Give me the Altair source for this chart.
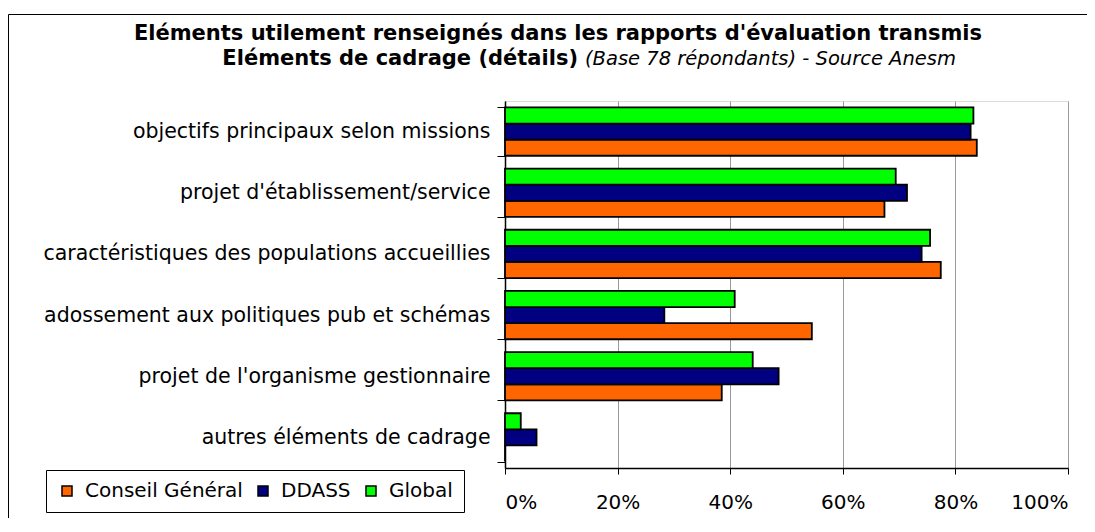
import altair as alt
import pandas as pd

categories = [
    "objectifs principaux selon missions",
    "projet d'établissement/service",
    "caractéristiques des populations accueillies",
    "adossement aux politiques pub et schémas",
    "projet de l'organisme gestionnaire",
    "autres éléments de cadrage",
]
series_names = ["Conseil Général", "DDASS", "Global"]
series_colors = ["#FF6600", "#000080", "#00FF00"]
stack_order = ["Global", "DDASS", "Conseil Général"]

conseil_general = [83.8, 67.4, 77.4, 54.5, 38.5, 0.0]
ddass = [82.7, 71.4, 74.0, 28.3, 48.6, 5.6]
global_values = [83.2, 69.4, 75.5, 40.8, 44.0, 2.8]

tick_values = [0, 0.2, 0.4, 0.6, 0.8, 1.0]

title_line1 = "Eléments utilement renseignés dans les rapports d'évaluation transmis"
title_line2_bold = "Eléments de cadrage (détails)"
title_line2_italic = "(Base 78 répondants) - Source Anesm"

rows = []
for name, vals in zip(series_names, [conseil_general, ddass, global_values]):
    for cat, v in zip(categories, vals):
        rows.append({"category": cat, "series": name, "value": v / 100.0})
df = pd.DataFrame(rows)

FONT = "DejaVu Sans"

bars = alt.Chart(df).mark_bar(stroke="black", strokeWidth=1.8).encode(
    x=alt.X(
        "value:Q",
        scale=alt.Scale(domain=[0, 1], nice=False),
        axis=alt.Axis(
            values=tick_values, format=".0%", title=None, grid=True,
            gridColor="#9a9a9a", gridWidth=1, domainColor="black", domainWidth=1.5,
            tickColor="black", tickSize=6, tickWidth=1, labelFont=FONT,
            labelFontSize=20, labelColor="black", labelPadding=18,
        ),
    ),
    y=alt.Y(
        "category:N",
        sort=categories,
        scale=alt.Scale(paddingInner=0.21, paddingOuter=0.105),
        axis=alt.Axis(
            title=None, tickBand="extent", tickSize=8, tickColor="black",
            domainColor="black", domainWidth=1.5, labelFont=FONT,
            labelFontSize=20.5, labelColor="black", labelPadding=7, labelLimit=0,
        ),
    ),
    yOffset=alt.YOffset("series:N", sort=stack_order,
                        scale=alt.Scale(paddingInner=0, paddingOuter=0)),
    color=alt.Color(
        "series:N",
        scale=alt.Scale(domain=series_names, range=series_colors),
        legend=alt.Legend(
            orient="none", legendX=-459, legendY=369, direction="horizontal",
            title=None, strokeColor="black", fillColor="white", padding=11,
            symbolType="square", symbolSize=100, symbolStrokeColor="black",
            symbolStrokeWidth=1.5, symbolOpacity=1, labelFont=FONT,
            labelFontSize=20, labelColor="black", labelOffset=8, columnPadding=10,
        ),
    ),
)

box = alt.Chart(pd.DataFrame({"k": [0]})).mark_rect(
    fillOpacity=0, stroke="black", strokeWidth=1
).encode(
    x=alt.value(-496.5), x2=alt.value(800), y=alt.value(-86.5), y2=alt.value(700)
)

t1 = alt.Chart(pd.DataFrame({"t": [title_line1]})).mark_text(
    font=FONT, fontSize=21, fontWeight="bold", align="center",
    baseline="alphabetic", color="black"
).encode(x=alt.value(53), y=alt.value(-61), text="t:N")

t2b = alt.Chart(pd.DataFrame({"t": [title_line2_bold]})).mark_text(
    font=FONT, fontSize=21, fontWeight="bold", align="right",
    baseline="alphabetic", color="black"
).encode(x=alt.value(73), y=alt.value(-36), text="t:N")

t2i = alt.Chart(pd.DataFrame({"t": [title_line2_italic]})).mark_text(
    font=FONT, fontSize=19.5, fontStyle="italic", align="left",
    baseline="alphabetic", color="black"
).encode(x=alt.value(80), y=alt.value(-36), text="t:N")

chart = alt.layer(box, bars, t1, t2b, t2i).properties(
    width=563,
    height=367,
    autosize=alt.AutoSizeParams(type="none"),
    padding={"left": 497, "top": 93, "right": 19, "bottom": 50},
).configure_view(
    stroke="#9a9a9a", strokeWidth=1.5
).configure(background="white")

chart.save("out.html", embed_options={"renderer": "svg", "actions": False})
